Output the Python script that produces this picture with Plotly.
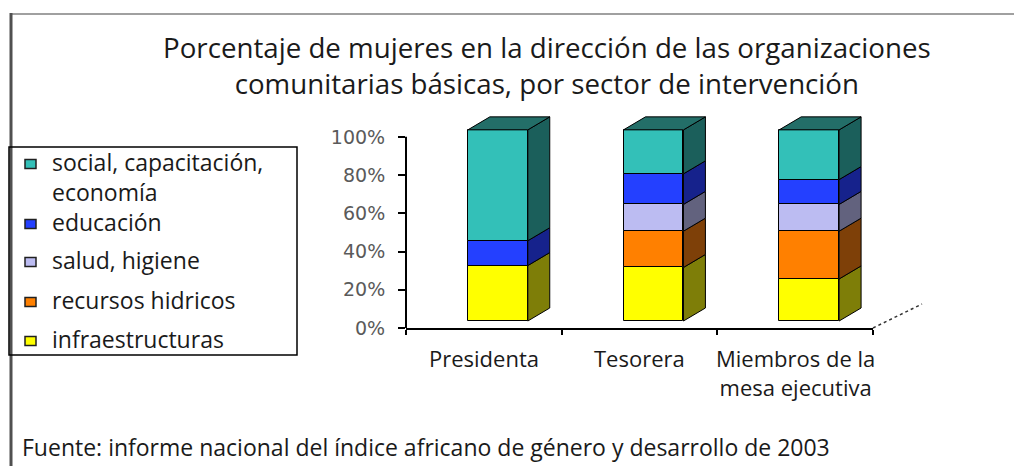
import plotly.graph_objects as go

# ---------------- data ----------------
categorias = ["Presidenta", "Tesorera", "Miembros de la<br>mesa ejecutiva"]
series_nombres = ["infraestructuras", "recursos hidricos", "salud, higiene",
                  "educación", "social, capacitación,<br>economía"]
infraestructuras = [29, 28, 22]
recursos_hidricos = [0, 19, 25]
salud_higiene = [0, 14, 14]
educacion = [13, 16, 13]
social = [58, 23, 26]
ytick_vals = [0, 20, 40, 60, 80, 100]
ytick_text = ["0%", "20%", "40%", "60%", "80%", "100%"]
titulo = "Porcentaje de mujeres en la dirección de las organizaciones<br>comunitarias básicas, por sector de intervención"
fuente = "Fuente: informe nacional del índice africano de género y desarrollo de 2003"

# ---------------- style ----------------
front_colors = ["#FFFF00", "#FF8000", "#BCBCF2", "#2440FF", "#33C0B8"]
side_colors = ["#7E7E08", "#7E4008", "#62627E", "#16228C", "#1B5F5B"]
top_color = "#236E68"
FONT = "Open Sans"

W, H = 1014, 466
L, R, T, B = 406, 141, 112, 138
YMAX = 113
plot_w = W - L - R
plot_h = H - T - B

def px_x(px):
    return (px - L) / plot_w

def py_y(py):
    return (H - B - py) / plot_h

# 3D geometry (data units)
xoff = 0.09
bw = 0.385
dx = 0.141
dy = 6.8
base0 = 3.66

valores = [infraestructuras, recursos_hidricos, salud_higiene, educacion, social]
n = len(categorias)
xs = list(range(n))

fig = go.Figure()

cum = [base0] * n
bases = []
for vals in valores:
    bases.append(cum[:])
    cum = [c + v for c, v in zip(cum, vals)]

# front faces
for k, vals in enumerate(valores):
    fig.add_trace(go.Bar(
        x=[x + xoff for x in xs], y=vals, base=bases[k], width=bw,
        name=series_nombres[k].replace("<br>", " "),
        marker=dict(color=front_colors[k], line=dict(color="black", width=1)),
        hoverinfo="skip"))

# side faces
for k, vals in enumerate(valores):
    px, py = [], []
    for i in xs:
        if vals[i] <= 0:
            continue
        y0 = bases[k][i]
        y1 = y0 + vals[i]
        xr = i + xoff + bw / 2
        px += [xr, xr + dx, xr + dx, xr, xr, None]
        py += [y0, y0 + dy, y1 + dy, y1, y0, None]
    fig.add_trace(go.Scatter(x=px, y=py, mode="lines", fill="toself",
                             fillcolor=side_colors[k],
                             line=dict(color="black", width=1),
                             showlegend=False, hoverinfo="skip"))

# top faces
px, py = [], []
for i in xs:
    top = cum[i]
    xl = i + xoff - bw / 2
    xr = i + xoff + bw / 2
    px += [xl, xl + dx, xr + dx, xr, xl, None]
    py += [top, top + dy, top + dy, top, top, None]
fig.add_trace(go.Scatter(x=px, y=py, mode="lines", fill="toself",
                         fillcolor=top_color, line=dict(color="black", width=1),
                         showlegend=False, hoverinfo="skip"))

shapes = [
    # chart frame
    dict(type="line", xref="paper", yref="paper", x0=px_x(10), x1=px_x(1014),
         y0=py_y(14), y1=py_y(14), line=dict(color="#A0A0A0", width=2)),
    dict(type="line", xref="paper", yref="paper", x0=px_x(11), x1=px_x(11),
         y0=py_y(13), y1=py_y(466), line=dict(color="#505050", width=3)),
    # legend box
    dict(type="rect", xref="paper", yref="paper", x0=px_x(9), x1=px_x(297),
         y0=py_y(147), y1=py_y(355), line=dict(color="black", width=1.5)),
    # y axis line (0..100)
    dict(type="line", xref="paper", yref="y", x0=0, x1=0, y0=0, y1=100,
         line=dict(color="black", width=2)),
    # floor depth edge
    dict(type="line", xref="paper", yref="paper", x0=1, x1=px_x(922),
         y0=0, y1=py_y(304), line=dict(color="#333333", width=1.5, dash="dot")),
]

annotations = [
    dict(text=titulo, xref="paper", yref="paper", x=px_x(547), y=py_y(65),
         xanchor="center", yanchor="middle", showarrow=False,
         font=dict(family=FONT, size=27.7, color="#1a1a1a")),
    dict(text=fuente, xref="paper", yref="paper", x=px_x(20), y=py_y(447),
         xanchor="left", yanchor="middle", showarrow=False,
         font=dict(family=FONT, size=23, color="#1a1a1a")),
]
for i, c in enumerate(categorias):
    annotations.append(dict(text=c, xref="x", yref="paper", x=i, y=py_y(341),
                            xanchor="center", yanchor="top", showarrow=False,
                            font=dict(family=FONT, size=22, color="#1a1a1a")))

# legend (drawn as symbols + text, listed top series first)
legend_rows_py = [341, 302, 262, 224, 164]   # first-line centre of each entry
line_h = 30
for k in range(len(valores)):
    yc = legend_rows_py[k]
    shapes.append(dict(type="rect", xref="paper", yref="paper",
                       x0=px_x(25), x1=px_x(36), y0=py_y(yc + 4.5), y1=py_y(yc - 4.5),
                       fillcolor=front_colors[k], line=dict(color="#202020", width=1.5)))
    annotations.append(dict(text=series_nombres[k], xref="paper", yref="paper",
                            x=px_x(50), y=py_y(yc - line_h / 2 - 5), align="left",
                            xanchor="left", yanchor="top", showarrow=False,
                            font=dict(family=FONT, size=23, color="#1a1a1a")))

fig.update_layout(
    width=W, height=H,
    margin=dict(l=L, r=R, t=T, b=B, pad=0),
    paper_bgcolor="white", plot_bgcolor="white",
    barmode="overlay", bargap=0,
    showlegend=False,
    xaxis=dict(range=[-0.5, 2.5], tickvals=[-0.5, 0.5, 1.5, 2.5],
               showticklabels=False, ticks="outside", ticklen=5,
               tickcolor="black", tickwidth=1.5,
               showline=True, linecolor="black", linewidth=2,
               showgrid=False, zeroline=False, fixedrange=True),
    yaxis=dict(range=[0, YMAX], tickvals=ytick_vals, ticktext=ytick_text,
               ticks="outside", ticklen=7, tickcolor="black", tickwidth=1.5,
               tickfont=dict(family="DejaVu Sans", size=19, color="#5a5a5a"),
               ticklabelstandoff=9,
               showline=False, showgrid=False, zeroline=False, fixedrange=True),
    shapes=shapes, annotations=annotations,
)

fig.write_html("out.html", config={"displayModeBar": False},
               post_script="document.body.style.margin='0px';")
